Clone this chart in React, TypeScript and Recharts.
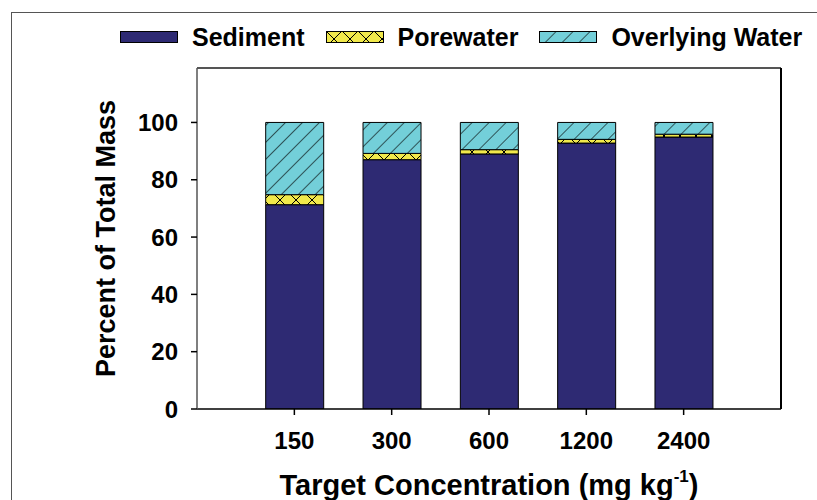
import React from "react";
import { BarChart, Bar, XAxis, YAxis, Legend } from "recharts";

const categories = ["150", "300", "600", "1200", "2400"];
const sediment = [71.3, 87.0, 89.0, 92.8, 94.9];
const porewater = [3.5, 2.2, 1.5, 1.3, 1.0];
const overlying = [25.2, 10.8, 9.5, 5.9, 4.1];
const yTicks = [0, 20, 40, 60, 80, 100];
const seriesNames = ["Sediment", "Porewater", "Overlying Water"];

const data = categories.map((c, i) => ({
  conc: c,
  sediment: sediment[i],
  porewater: porewater[i],
  overlying: overlying[i],
}));

const FONT = "'Liberation Sans', Arial, Helvetica, sans-serif";
const SED = "#2E2A73";
const PORE = "#F1E94B";
const OVER = "#73CFD9";

const PatternDefs = ({ suffix }: { suffix: string }) => (
  <defs>
    <pattern id={`over${suffix}`} patternUnits="userSpaceOnUse" width="12" height="12" patternTransform="rotate(45)">
      <rect width="12" height="12" fill={OVER} />
      <line x1="0" y1="0" x2="0" y2="12" stroke="#000" strokeWidth="1.2" />
    </pattern>
    <pattern id={`pore${suffix}`} patternUnits="userSpaceOnUse" width="16" height="16">
      <rect width="16" height="16" fill={PORE} />
      <path d="M0,0 L16,16 M16,0 L0,16" stroke="#000" strokeWidth="1" />
    </pattern>
  </defs>
);

const Swatch = ({ fill, suffix }: { fill: string; suffix: string }) => (
  <svg width={58} height={12} style={{ display: "block" }}>
    <PatternDefs suffix={suffix} />
    <rect x={0.5} y={0.5} width={57} height={11} fill={fill} stroke="#000" strokeWidth={1} />
  </svg>
);

const LegendContent = () => {
  const items = [
    { name: seriesNames[0], fill: SED },
    { name: seriesNames[1], fill: "url(#poreL)" },
    { name: seriesNames[2], fill: "url(#overL)" },
  ];
  return (
    <div
      style={{
        height: 40,
        display: "flex",
        alignItems: "center",
        paddingLeft: 120,
        fontFamily: FONT,
        fontWeight: "bold",
        fontSize: 25,
        color: "#000",
      }}
    >
      {items.map((it, i) => (
        <div key={it.name} style={{ display: "flex", alignItems: "center", marginRight: 21 }}>
          <Swatch fill={it.fill} suffix={i === 0 ? "X" : "L"} />
          <span style={{ marginLeft: 14, whiteSpace: "nowrap" }}>{it.name}</span>
        </div>
      ))}
    </div>
  );
};

const XTitle = (props: any) => {
  const vb = props.viewBox || { x: 197, y: 409, width: 584, height: 91 };
  const cx = vb.x + vb.width / 2;
  return (
    <text x={cx} y={vb.y + 86} textAnchor="middle" fontSize={29} fontWeight="bold" fontFamily={FONT} fill="#000">
      <tspan>Target Concentration (mg kg</tspan>
      <tspan fontSize={17} dy={-13}>-1</tspan>
      <tspan dy={13}>)</tspan>
    </text>
  );
};

const YTitle = (props: any) => {
  const vb = props.viewBox || { x: 0, y: 68, width: 197, height: 341 };
  const cy = vb.y + vb.height / 2;
  const x = 115;
  return (
    <text
      x={x}
      y={cy}
      textAnchor="middle"
      transform={`rotate(-90, ${x}, ${cy})`}
      fontSize={27}
      fontWeight="bold"
      fontFamily={FONT}
      fill="#000"
    >
      Percent of Total Mass
    </text>
  );
};

const tickStyle = { fontSize: 24, fontWeight: "bold", fontFamily: FONT, fill: "#000" } as any;

export default function App() {
  return (
    <div style={{ position: "absolute", left: 0, top: 0, width: 817, height: 500, background: "#fff", overflow: "hidden" }}>
      <div
        style={{
          position: "absolute",
          left: 11,
          top: 12,
          width: 900,
          height: 600,
          borderLeft: "1px solid #555",
          borderTop: "1px solid #555",
        }}
      />
      <BarChart
        width={817}
        height={500}
        data={data}
        margin={{ top: 27, right: 35, left: 0, bottom: 0 }}
        style={{ position: "absolute", left: 0, top: 0 }}
      >
        <PatternDefs suffix="" />
        <Legend
          verticalAlign="top"
          align="left"
          content={<LegendContent />}
          wrapperStyle={{ top: 17, left: 0, width: 817, height: 40 }}
        />
        <XAxis
          dataKey="conc"
          type="category"
          height={91}
          padding={{ left: 48.7, right: 48.7 }}
          tick={tickStyle}
          tickSize={6}
          tickMargin={17}
          axisLine={{ stroke: "#000", strokeWidth: 1.5 }}
          tickLine={{ stroke: "#000", strokeWidth: 1.5 }}
          label={<XTitle />}
        />
        <XAxis
          xAxisId="top"
          dataKey="conc"
          orientation="top"
          height={1}
          tick={false}
          tickLine={false}
          axisLine={{ stroke: "#555", strokeWidth: 2 }}
        />
        <YAxis
          domain={[0, 119]}
          ticks={yTicks}
          width={197}
          tick={tickStyle}
          tickSize={6}
          tickMargin={13}
          axisLine={{ stroke: "#555", strokeWidth: 1.5 }}
          tickLine={{ stroke: "#000", strokeWidth: 1.5 }}
          label={<YTitle />}
          allowDataOverflow
        />
        <YAxis
          yAxisId="right"
          orientation="right"
          domain={[0, 119]}
          width={1}
          tick={false}
          tickLine={false}
          axisLine={{ stroke: "#000", strokeWidth: 2 }}
        />
        <Bar dataKey="sediment" name={seriesNames[0]} stackId="a" fill={SED} stroke="#000" strokeWidth={1} barSize={58} isAnimationActive={false} />
        <Bar dataKey="porewater" name={seriesNames[1]} stackId="a" fill="url(#pore)" stroke="#000" strokeWidth={1} barSize={58} isAnimationActive={false} />
        <Bar dataKey="overlying" name={seriesNames[2]} stackId="a" fill="url(#over)" stroke="#000" strokeWidth={1} barSize={58} isAnimationActive={false} />
      </BarChart>
    </div>
  );
}
